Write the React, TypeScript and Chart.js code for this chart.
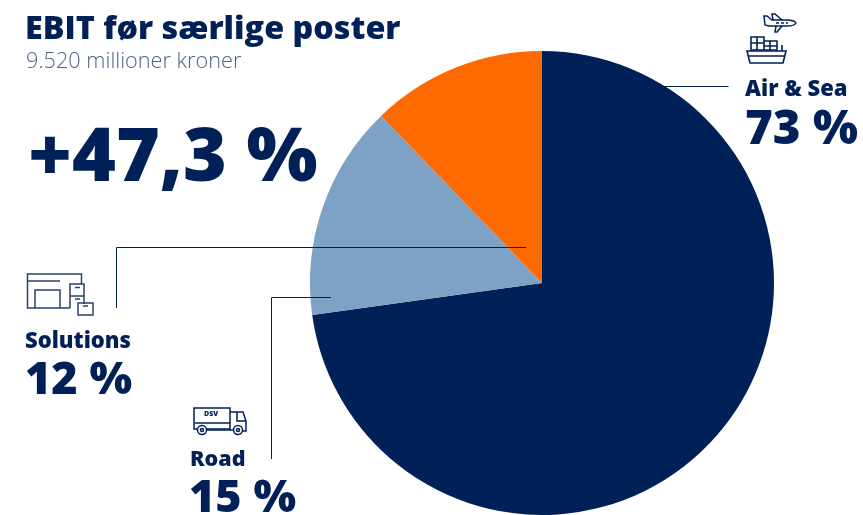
import React, { useEffect, useRef } from "react";
import { Chart, registerables } from "chart.js";

Chart.register(...registerables);

const categories = ["Air & Sea", "Road", "Solutions"];
const values = [72.8, 15, 12.2];
const colours = ["#002157", "#7EA2C6", "#FF6A00"];
const title = "EBIT før særlige poster";
const subtitle = "9.520 millioner kroner";
const headline = "+47,3 %";

const NAVY = "#002157";
const FONT = "'Open Sans', 'Noto Sans', sans-serif";

function Label(p: { x: number; y: number; size: number; weight: number; color?: string; children: React.ReactNode; spacing?: number }) {
  return (
    <div
      style={{
        position: "absolute",
        left: p.x,
        top: p.y,
        fontFamily: FONT,
        fontSize: p.size,
        fontWeight: p.weight,
        color: p.color || NAVY,
        lineHeight: `${p.size}px`,
        whiteSpace: "nowrap",
        letterSpacing: p.spacing || 0,
      }}
    >
      {p.children}
    </div>
  );
}

export default function App() {
  const ref = useRef<HTMLCanvasElement>(null);
  useEffect(() => {
    const chart = new Chart(ref.current!, {
      type: "pie",
      data: {
        labels: categories,
        datasets: [{ data: values, backgroundColor: colours, borderWidth: 0 }],
      },
      options: {
        animation: false,
        responsive: false,
        layout: { padding: { left: 310, right: 89, top: 51, bottom: 0 } },
        plugins: { legend: { display: false }, tooltip: { enabled: false }, title: { display: false } },
      },
    });
    return () => chart.destroy();
  }, []);

  return (
    <div style={{ position: "absolute", left: 0, top: 0, width: 863, height: 515, overflow: "hidden", background: "#fff" }}>
      <canvas ref={ref} width={863} height={515} style={{ position: "absolute", left: 0, top: 0 }} />
      <svg width={863} height={515} style={{ position: "absolute", left: 0, top: 0 }} fill="none" stroke={NAVY} strokeWidth={1}>
        <path d="M662.5 86.5H728.5" />
        <path d="M116.5 308V247.5H526" />
        <path d="M271.5 459V297.5H331" />
        {/* plane */}
        <g strokeWidth={1.5}>
          <path d="M764 16l3 0 5 4 14 0c5 0 9 1 10 3-1 2-5 3-9 3l-18 0-4-1z" />
          <path d="M773 20l-1-6 3 0 7 6M782 26l-5 6-2 0 1-6" />
          <path d="M776 23h12" strokeDasharray="3 2" />
        </g>
        {/* ship */}
        <g strokeWidth={1.6}>
          <path d="M751 37h13v13h-13zM751 43h13M764 41h13v9h-13zM764 46h13M757 37v13M770 41v9" />
          <path d="M747 51h39l-3 12h-33zM749 56h35M782 51v-6" />
        </g>
        {/* warehouse */}
        <g strokeWidth={1.5} opacity={0.85}>
          <path d="M70 308H27.5V274H81.5V284M27.5 281H60M35 308V290H60V308" />
          <path d="M70 284H84V296H70zM70 296H84V304M70 296V308M78 303H93V315H78z" />
          <path d="M75 287.5h5M75 299h5M83 306h5" />
        </g>
        {/* truck */}
        <g strokeWidth={1.5}>
          <path d="M194 408H230V429H194zM195 423H230M230 412H243L246 421V431H242" />
          <path d="M237 412V421H246M207 430H233" />
          <circle cx={202} cy={430} r={4.5} fill="#fff" />
          <circle cx={238} cy={430} r={4.5} fill="#fff" />
          <circle cx={202} cy={430} r={1.5} />
          <circle cx={238} cy={430} r={1.5} />
        </g>
      </svg>
      <Label x={25} y={10} size={32.3} weight={800}>{title}</Label>
      <Label x={26} y={49} size={21.7} weight={300} color="#4d6388">{subtitle}</Label>
      <Label x={28} y={115} size={75} weight={800}>{headline}</Label>
      <Label x={745} y={76} size={22} weight={800}>Air &amp; Sea</Label>
      <Label x={745} y={102} size={47.5} weight={800}>73 %</Label>
      <Label x={25} y={328} size={22} weight={800}>Solutions</Label>
      <Label x={25} y={354} size={45} weight={800}>12 %</Label>
      <Label x={190} y={447} size={21.5} weight={800}>Road</Label>
      <Label x={189} y={472} size={45} weight={800}>15 %</Label>
      <span style={{ position: "absolute", left: 204, top: 410, fontFamily: FONT, fontSize: 7, fontWeight: 800, color: NAVY, lineHeight: "7px" }}>DSV</span>
    </div>
  );
}
